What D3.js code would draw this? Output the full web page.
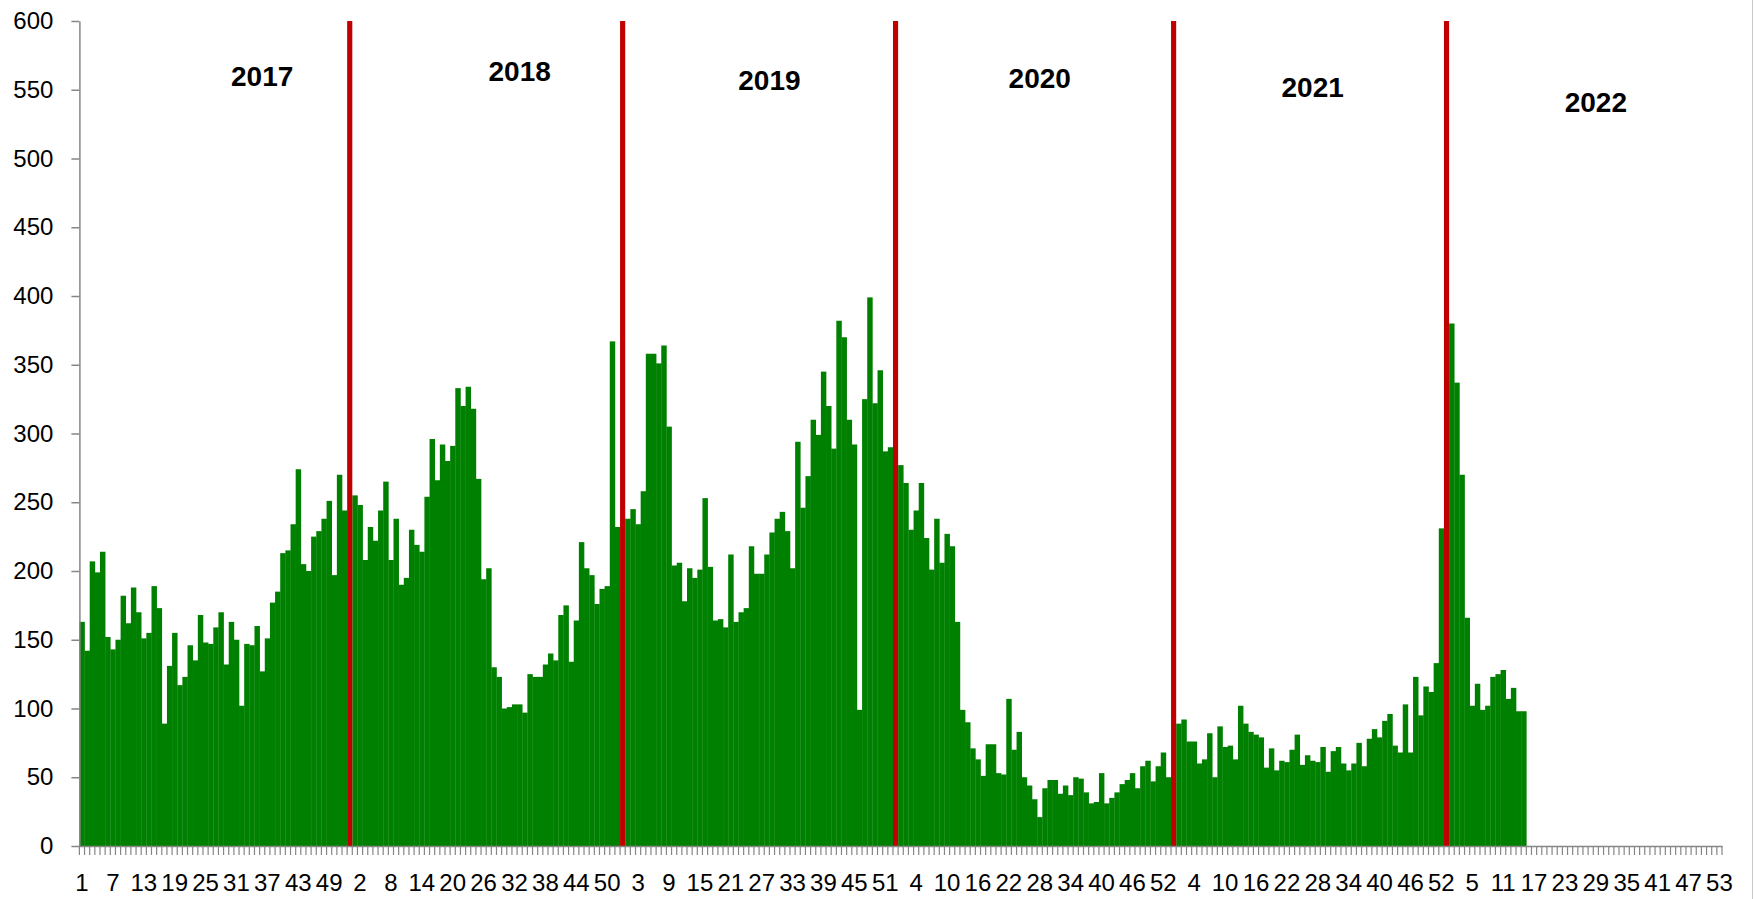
<!DOCTYPE html>
<html><head><meta charset="utf-8">
<script src="https://cdn.jsdelivr.net/npm/d3@7"></script>
<style>body{margin:0;background:#fff}svg{display:block}</style>
</head><body><svg id="chart" width="1754" height="899"></svg>
<script>
// ---- data ----
const years = ["2017", "2018", "2019", "2020", "2021", "2022"];
const slotsPerYear = [53, 53, 53, 54, 53, 53];          // axis slots per year (last slot of 2017-2021 = separator)
const separatorYears = ["2017", "2018", "2019", "2020", "2021"];
const cases2017 = [163,142,207,199,214,152,143,150,182,162,188,170,151,155,189,173,89,131,155,117,123,146,135,168,148,147,159,170,132,163,150,102,147,146,160,127,151,177,185,213,215,234,274,205,200,225,229,238,251,197,270,244];
const cases2018 = [255,248,208,232,222,244,265,208,238,190,195,230,219,214,254,296,266,292,280,291,333,320,334,318,267,194,202,130,123,100,101,103,103,97,125,123,123,132,140,135,168,175,134,164,221,202,197,176,187,189,367,232];
const cases2019 = [238,245,234,258,358,358,351,364,305,204,206,178,202,195,201,253,203,164,165,159,212,163,170,173,218,198,198,212,228,238,243,229,202,294,246,269,310,299,345,320,289,382,370,310,292,99,325,399,322,346,287,290];
const cases2020 = [277,264,230,244,264,224,201,238,206,227,218,163,99,90,71,63,51,74,74,53,52,107,70,83,50,44,34,21,42,48,48,38,44,37,50,49,39,31,32,53,31,35,39,45,48,53,42,58,62,47,58,68,50];
const cases2021 = [89,92,76,76,60,63,82,50,87,72,73,63,102,89,83,81,79,57,71,55,62,61,70,81,59,66,62,61,72,54,69,72,60,55,60,75,58,78,85,79,91,96,73,68,103,68,123,95,116,112,133,231];
const cases2022 = [380,337,270,166,102,118,99,102,123,125,128,107,115,98,98];
const casesByYear = [cases2017, cases2018, cases2019, cases2020, cases2021, cases2022];
const yTicks = [0,50,100,150,200,250,300,350,400,450,500,550,600];
const yMax = 600;
const labelEvery = 6;

// ---- layout (not data) ----
const yearLabelPos = [[36, 560], [33, 564], [28.5, 557], [28, 558.5], [27, 552], [29, 541]]; // [slot, value] for year captions

const W = 1754, H = 899;
const plotLeft = 79.4, plotRight = 1722, plotTop = 21, plotBottom = 846;

const cats = [];
years.forEach((yr, i) => {
  for (let w = 1; w <= slotsPerYear[i]; w++) {
    const v = casesByYear[i][w - 1];
    cats.push({
      key: yr + "-" + w, year: yr, week: w,
      value: (v === undefined ? null : v),
      sep: separatorYears.includes(yr) && w === slotsPerYear[i]
    });
  }
});

const svg = d3.select("#chart");
svg.append("rect").attr("width", W).attr("height", H).attr("fill", "#fff");

const x = d3.scaleBand().domain(cats.map(d => d.key)).range([plotLeft, plotRight]).padding(0);
const y = d3.scaleLinear().domain([0, yMax]).range([plotBottom, plotTop]);
const bw = x.bandwidth();

// green bars
svg.append("g").selectAll("rect")
  .data(cats.filter(d => d.value !== null && !d.sep))
  .join("rect")
  .attr("x", d => x(d.key))
  .attr("width", bw + 0.3)
  .attr("y", d => y(d.value))
  .attr("height", d => y(0) - y(d.value))
  .attr("fill", "#008000");

// red separators
svg.append("g").selectAll("rect")
  .data(cats.filter(d => d.sep))
  .join("rect")
  .attr("x", d => x(d.key))
  .attr("width", bw)
  .attr("y", y(yMax))
  .attr("height", y(0) - y(yMax))
  .attr("fill", "#C00000");

const axisColor = "#868686";
const tickFont = "'Liberation Sans', Arial, sans-serif";

// y axis
const yAxis = svg.append("g").attr("transform", `translate(${plotLeft},0)`)
  .call(d3.axisLeft(y).tickValues(yTicks).tickSize(8).tickSizeOuter(0).tickPadding(18).tickFormat(d3.format("d")));
yAxis.select(".domain").attr("stroke", axisColor).attr("stroke-width", 1.5);
yAxis.selectAll(".tick line").attr("stroke", axisColor).attr("stroke-width", 1.5);
yAxis.selectAll(".tick text").attr("font-family", tickFont).attr("font-size", 24).attr("fill", "#000");

// x axis
const xAxis = svg.append("g").attr("transform", `translate(0,${plotBottom})`)
  .call(d3.axisBottom(x)
    .tickValues(cats.filter((d, i) => i % labelEvery === 0).map(d => d.key))
    .tickSize(0).tickSizeOuter(0).tickPadding(28)
    .tickFormat(k => k.split("-")[1]));
xAxis.select(".domain").attr("stroke", axisColor).attr("stroke-width", 1.5);
xAxis.selectAll(".tick text").attr("font-family", tickFont).attr("font-size", 24).attr("fill", "#000");

// category boundary ticks
const bounds = cats.map(d => x(d.key)).concat([x.range()[1]]);
svg.append("g").selectAll("line").data(bounds).join("line")
  .attr("x1", d => d).attr("x2", d => d)
  .attr("y1", plotBottom).attr("y2", plotBottom + 9)
  .attr("stroke", axisColor).attr("stroke-width", 1.2);

// year captions
svg.append("g").selectAll("text")
  .data(years.map((yr, i) => ({ yr, slot: yearLabelPos[i][0], v: yearLabelPos[i][1] })))
  .join("text")
  .attr("x", d => x(d.yr + "-1") + (d.slot - 0.5) * bw)
  .attr("y", d => y(d.v))
  .attr("dy", "0.36em")
  .attr("text-anchor", "middle")
  .attr("font-family", tickFont)
  .attr("font-weight", "bold")
  .attr("font-size", 28)
  .attr("fill", "#000")
  .text(d => d.yr);

// chart frame edge on the right
svg.append("line").attr("x1", W - 1.5).attr("x2", W - 1.5).attr("y1", 0).attr("y2", H)
  .attr("stroke", "#c8c8c8").attr("stroke-width", 1);
</script>
</body></html>
